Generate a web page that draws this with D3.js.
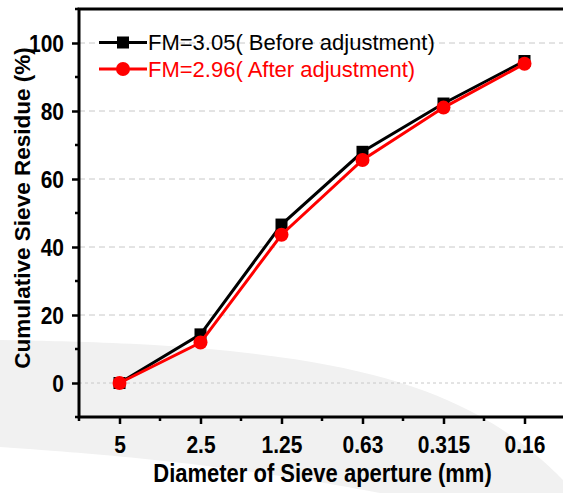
<!DOCTYPE html>
<html>
<head>
<meta charset="utf-8">
<script src="https://cdn.jsdelivr.net/npm/d3@7"></script>
<style>
  body { margin: 0; background: #fff; }
  svg { display: block; font-family: "Liberation Sans", Arial, sans-serif; }
</style>
</head>
<body>
<div id="chart"></div>
<script>
// sieve sizes (mm), left to right
const sieves = ["5", "2.5", "1.25", "0.63", "0.315", "0.16"];
// cumulative residue (%)
const before = [0, 14.3, 46.6, 68.0, 82.2, 94.7];
const after = [0, 11.9, 43.6, 65.6, 81.0, 93.9];
const yTicks = [0, 20, 40, 60, 80, 100];
const yMinor = [-10, 10, 30, 50, 70, 90, 110];

const width = 563, height = 493;
const margin = { left: 79, top: 9, right: -2, bottom: 76 };

const svg = d3.select("#chart").append("svg")
  .attr("width", width)
  .attr("height", height);

// faint grey band in the background of the original image
const band = d3.line().curve(d3.curveBasis);
svg.append("path")
  .attr("d", band([[0, 340], [150, 343], [300, 357], [420, 385], [500, 425], [545, 462], [563, 480]]) +
    "L563,493L380,493" +
    band([[380, 493], [300, 478], [150, 458], [0, 447]]).slice(1).replace(/^[\d.,]+/, "") + "Z")
  .attr("fill", "#f1f1f1");

const x = d3.scaleLinear()
  .domain([-0.5, 5.5])
  .range([margin.left, width - margin.right]);

const y = d3.scaleLinear()
  .domain([-10, 110])
  .range([height - margin.bottom, margin.top]);

// grid lines
svg.append("g")
  .selectAll("line")
  .data(yTicks)
  .join("line")
  .attr("x1", margin.left)
  .attr("x2", width)
  .attr("y1", d => y(d))
  .attr("y2", d => y(d))
  .attr("stroke", "#c8c8c8")
  .attr("stroke-width", 1)
  .attr("stroke-dasharray", d => d === 0 ? "3,3" : "6,4");

// axes
const xAxis = svg.append("g")
  .attr("transform", "translate(0," + (height - margin.bottom) + ")")
  .call(d3.axisBottom(x)
    .tickValues(d3.range(sieves.length))
    .tickFormat(i => sieves[i])
    .tickSize(7));
xAxis.append("g")
  .selectAll("line")
  .data(d3.range(-0.5, 6, 1))
  .join("line")
  .attr("x1", d => x(d)).attr("x2", d => x(d))
  .attr("y1", 0).attr("y2", 4)
  .attr("stroke", "#000").attr("stroke-width", 2.5);

const yAxis = svg.append("g")
  .attr("transform", "translate(" + margin.left + ",0)")
  .call(d3.axisLeft(y)
    .tickValues(yTicks)
    .tickSize(7));
yAxis.append("g")
  .selectAll("line")
  .data(yMinor)
  .join("line")
  .attr("x1", 0).attr("x2", -4)
  .attr("y1", d => y(d)).attr("y2", d => y(d))
  .attr("stroke", "#000").attr("stroke-width", 2.5);

[xAxis, yAxis].forEach(a => {
  a.select(".domain").remove();
  a.selectAll(".tick line").attr("stroke-width", 2.5);
  a.selectAll(".tick text")
    .attr("font-size", 21)
    .attr("font-weight", "bold")
    .attr("font-family", "Liberation Sans, Arial, sans-serif")
    .attr("fill", "#000")
    .attr("x", 0).attr("y", 0);
});
// the original's bold labels are a little taller than plain Arial
xAxis.selectAll(".tick text")
  .attr("dy", null)
  .attr("transform", "translate(0,36) scale(1,1.12)");
yAxis.selectAll(".tick text")
  .attr("dy", "0.36em")
  .attr("transform", "translate(-15,0) scale(1,1.12)");

// frame: left, bottom, top
svg.append("path")
  .attr("d", "M" + width + "," + y(110) + "H" + margin.left + "V" + y(-10) + "H" + width)
  .attr("fill", "none")
  .attr("stroke", "#000")
  .attr("stroke-width", 3);

// axis titles
svg.append("text")
  .attr("transform", "translate(322.5,482) scale(1,1.18)")
  .attr("text-anchor", "middle")
  .attr("font-size", 22)
  .attr("font-weight", "bold")
  .text("Diameter of Sieve aperture (mm)");

svg.append("text")
  .attr("transform", "translate(30,208) rotate(-90)")
  .attr("text-anchor", "middle")
  .attr("font-size", 22.5)
  .attr("font-weight", "bold")
  .text("Cumulative Sieve Residue (%)");

// series
const series = [
  { name: "FM=3.05( Before adjustment)", values: before, color: "#000", shape: "square" },
  { name: "FM=2.96( After adjustment)", values: after, color: "#ff0000", shape: "circle" }
];

const line = d3.line()
  .x((d, i) => x(i))
  .y(d => y(d));

function marker(g, shape, color) {
  if (shape === "square") {
    g.append("rect")
      .attr("x", -6).attr("y", -6)
      .attr("width", 12).attr("height", 12)
      .attr("fill", color);
  } else {
    g.append("circle")
      .attr("r", 7)
      .attr("fill", color);
  }
}

series.forEach(s => {
  svg.append("path")
    .datum(s.values)
    .attr("d", line)
    .attr("fill", "none")
    .attr("stroke", s.color)
    .attr("stroke-width", 3);
  svg.append("g")
    .selectAll("g")
    .data(s.values)
    .join("g")
    .attr("transform", (d, i) => "translate(" + x(i) + "," + y(d) + ")")
    .each(function () { marker(d3.select(this), s.shape, s.color); });
});

// legend
const legend = svg.append("g")
  .attr("transform", "translate(99,42.5)");
series.forEach((s, i) => {
  const row = legend.append("g")
    .attr("transform", "translate(0," + i * 26.5 + ")");
  row.append("line")
    .attr("x1", 0).attr("x2", 48)
    .attr("stroke", s.color).attr("stroke-width", 3);
  marker(row.append("g").attr("transform", "translate(24,0)"), s.shape, s.color);
  row.append("text")
    .attr("x", 49)
    .attr("y", 7.5)
    .attr("font-size", 22)
    .attr("fill", s.color)
    .text(s.name);
});
</script>
</body>
</html>
